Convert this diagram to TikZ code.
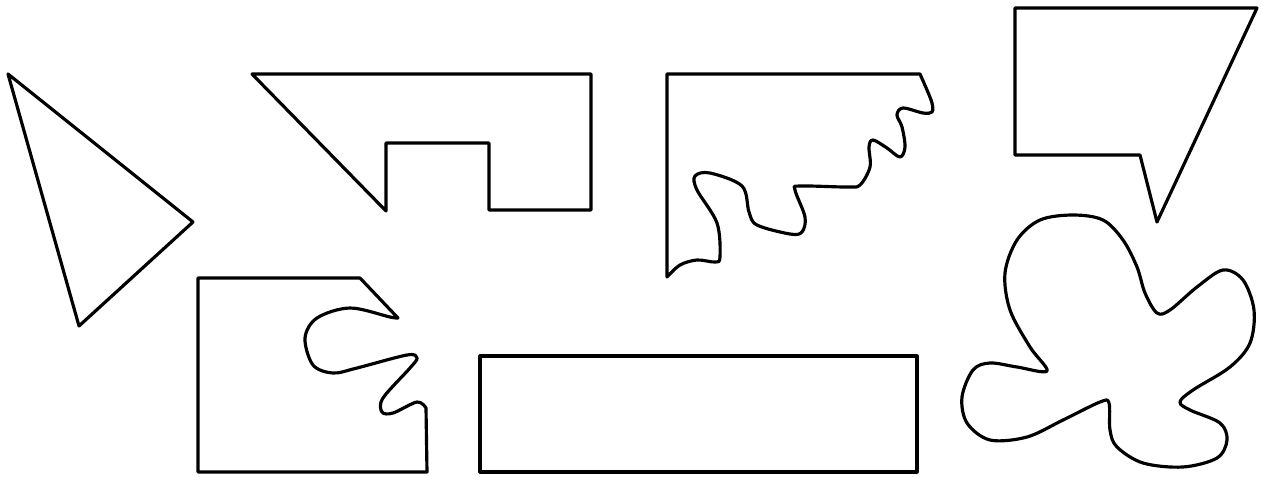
\documentclass[tikz,border=0pt]{standalone}
\begin{document}
\begin{tikzpicture}[
        x=0.02cm, y=-0.02cm,
        contorno/.style={draw=black, line width=1.8pt, line join=round, line cap=round},
        onda/.style={smooth, tension=0.55}
    ]

        \useasboundingbox (0,0) rectangle (1262,477);

        % ========================================================
        % TRIANGULO
        % ========================================================
        \draw[contorno] (8,74) -- (193,222) -- (79,326) -- cycle;

        % ========================================================
        % FIGURA CON ESCALON
        % ========================================================
        \draw[contorno] (252,74) -- (591,74) -- (591,210) -- (489,210)
            -- (489,143) -- (386,143) -- (386,211) -- cycle;

        % ========================================================
        % FIGURA CON BORDE ONDULADO (ARRIBA)
        % ========================================================
        \draw[contorno] (667,74) -- (920,74) -- plot[onda] coordinates {
            (920,74) (927,90) (932,103) (932,112) (923,113) (903,108)
            (897,115) (902,127) (905,147) (900,157) (887,148) (873,140)
            (869,147) (870,167) (860,185) (847,187) (800,186) (795,190)
            (805,217) (802,232) (790,234) (757,225) (749,212)
            (742,186) (710,173) (695,176) (697,190) (717,223) (720,257)
            (715,262) (697,260) (680,265) (667,277)} -- cycle;

        % ========================================================
        % FIGURA CON BORDE ONDULADO (ABAJO)
        % ========================================================
        \draw[contorno] (198,278) -- (360,278) -- (398,318) -- plot[onda] coordinates {
            (398,318) (390,317) (350,308) (317,318) (305,338) (313,365)
            (333,373) (357,368) (407,355) (417,358) (410,368) (383,398)
            (382,412) (393,413) (417,402) (426,408)}
            -- (427,472) -- (198,472) -- cycle;

        % ========================================================
        % RECTANGULO
        % ========================================================
        \draw[contorno] (480,356) rectangle (917,472);

        % ========================================================
        % TRAPECIO CON PICO
        % ========================================================
        \draw[contorno] (1015,8) -- (1257,8) -- (1157,222) -- (1140,155)
            -- (1015,155) -- cycle;

        % ========================================================
        % MANCHA
        % ========================================================
        \draw[contorno] plot[smooth cycle, tension=0.55] coordinates {
            (1073,215) (1103,220) (1123,240) (1137,267) (1145,293) (1157,313)
            (1170,310) (1197,287) (1223,270) (1243,280) (1254,310) (1250,343)
            (1230,367) (1193,390) (1180,402) (1190,410) (1220,423) (1227,440)
            (1217,458) (1183,467) (1143,463) (1117,447) (1110,430) (1109,403)
            (1100,402) (1063,420) (1027,437) (990,440) (967,423) (962,397)
            (973,370) (990,363) (1017,367) (1047,371) (1030,347) (1010,310)
            (1005,273) (1017,240) (1040,220)};

    \end{tikzpicture}
\end{document}
